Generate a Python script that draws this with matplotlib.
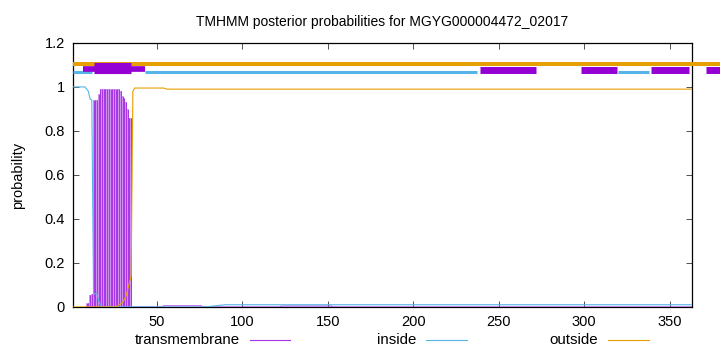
import matplotlib
matplotlib.use("Agg")
import matplotlib.pyplot as plt
from matplotlib.lines import Line2D

plt.rcParams['font.family'] = ['Liberation Sans', 'DejaVu Sans']

title = "TMHMM posterior probabilities for MGYG000004472_02017"
seq_len = 363

# per-residue transmembrane probability (residues 1..36)
tm_res = list(range(1, 37))
tm_prob = [0, 0, 0, 0, 0, 0, 0, 0, 0.02, 0.02, 0.055, 0.06,
           0.94, 0.94, 0.94, 0.97, 0.99, 0.99, 0.99, 0.99, 0.99, 0.99,
           0.99, 0.99, 0.99, 0.99, 0.99, 0.99, 0.98, 0.96, 0.95, 0.93,
           0.90, 0.86, 0.86, 0.0]
# low-level tm noise after the helix
tm_tail_x = [36, 53, 54, 76, 77, 122, 123, 152, 153, 363]
tm_tail_y = [0, 0, 0.005, 0.005, 0, 0, 0.004, 0.004, 0, 0]

inside_x = [1, 8, 9, 10, 11, 12, 13, 15, 16, 17, 18, 78, 90, 363]
inside_y = [1.0, 1.0, 0.99, 0.98, 0.945, 0.94, 0.06, 0.06, 0.03, 0.01,
            0.0, 0.0, 0.01, 0.01]

outside_x = [1, 26, 28, 30, 32, 33, 34, 35, 36, 37, 54, 56, 363]
outside_y = [0, 0, 0.01, 0.02, 0.05, 0.08, 0.11, 0.14, 0.98, 0.995,
             0.995, 0.99, 0.99]

# predicted topology bars at the top
outside_seg = [(1, 380)]
inside_seg = [(1, 12), (43, 237), (320, 338)]
tm_thin_seg = [(7, 43)]
tm_seg = [(13, 35)]
tm_box_seg = [(239, 272), (298, 319), (339, 361), (371, 390)]

c_tm = '#9400d3'
c_tm_imp = '#a636e4'
c_tm_light = '#cf90ee'
c_in = '#56b4e9'
c_out = '#e69f00'

fs = 10.8

fig = plt.figure(figsize=(7.2, 3.52), dpi=100)
ax = fig.add_axes([0.1014, 0.128, 0.8597, 0.75])

# tm impulses
ax.bar(tm_res, tm_prob, width=0.85, color=c_tm_light, linewidth=0, zorder=2)
ax.vlines(tm_res, 0, tm_prob, color=c_tm_imp, linewidth=0.7, zorder=3)
ax.plot(tm_tail_x, tm_tail_y, color=c_tm_imp, linewidth=0.7, zorder=3)

ax.plot(inside_x, inside_y, color=c_in, linewidth=0.8, zorder=4)
ax.plot(outside_x, outside_y, color=c_out, linewidth=0.8, zorder=4)

for a, b in outside_seg:
    ax.plot([a, b], [1.105, 1.105], color=c_out, linewidth=2.9,
            solid_capstyle='butt', clip_on=False, zorder=5)
for a, b in inside_seg:
    ax.plot([a, b], [1.067, 1.067], color=c_in, linewidth=2.2,
            solid_capstyle='butt', clip_on=False, zorder=5)
for a, b in tm_thin_seg:
    ax.plot([a, b], [1.081, 1.081], color=c_tm, linewidth=4.1,
            solid_capstyle='butt', clip_on=False, zorder=6)
for a, b in tm_seg:
    ax.plot([a, b], [1.088, 1.088], color=c_tm, linewidth=8.0,
            solid_capstyle='butt', clip_on=False, zorder=6)
for a, b in tm_box_seg:
    ax.plot([a, b], [1.079, 1.079], color=c_tm, linewidth=5.0,
            solid_capstyle='butt', clip_on=False, zorder=6)

ax.set_xlim(1, seq_len)
ax.set_ylim(0, 1.2)
ax.set_xticks([50, 100, 150, 200, 250, 300, 350])
ax.set_yticks([0, 0.2, 0.4, 0.6, 0.8, 1.0, 1.2])
ax.set_yticklabels(['0', '0.2', '0.4', '0.6', '0.8', '1', '1.2'])
ax.tick_params(direction='in', length=4, width=0.6, top=True, right=True,
               labelsize=10.5, pad=6, colors='#333333', labelcolor='black')
for s in ax.spines.values():
    s.set_linewidth(0.9)
ax.set_ylabel('probability', fontsize=10.5, labelpad=14)
ax.set_title(title, fontsize=10, pad=12)

# legend row under the axis
leg_y = 0.033
for label, col, xr in [('transmembrane', c_tm_imp, 0.333),
                       ('inside', c_in, 0.578),
                       ('outside', c_out, 0.831)]:
    fig.text(xr, leg_y, label, ha='right', va='center', fontsize=fs)
    fig.add_artist(Line2D([xr + 0.014, xr + 0.07], [leg_y, leg_y],
                          color=col, linewidth=0.8))

fig.savefig('out.png', dpi=100)
